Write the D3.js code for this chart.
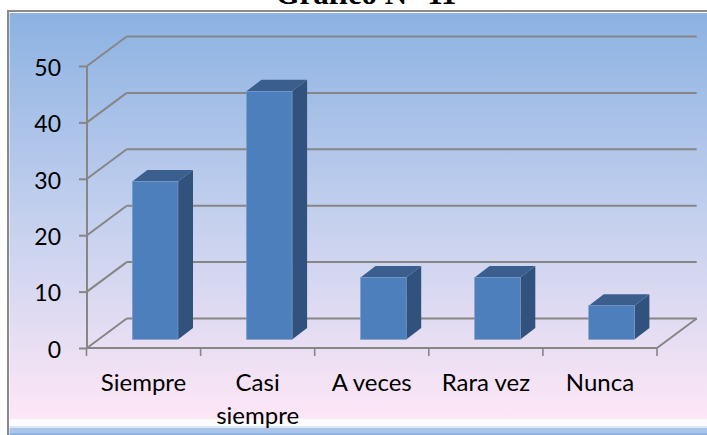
<!DOCTYPE html>
<html><head><meta charset="utf-8">
<script src="https://cdn.jsdelivr.net/npm/d3@7"></script>
<style>html,body{margin:0;padding:0;background:#fff}svg{display:block}</style>
</head><body><svg id="c" width="707" height="435"></svg>
<script>
const categories = ["Siempre", "Casi siempre", "A veces", "Rara vez", "Nunca"];
const values = [28, 44, 11, 11, 6];
const yTicks = [0, 10, 20, 30, 40, 50];
const titleText = "Gráfico N° 11";

const W = 707, H = 435;
const svg = d3.select("#c");
const defs = svg.append("defs");
const g = defs.append("linearGradient").attr("id","bg").attr("x1",0).attr("x2",0).attr("y1",0).attr("y2",1);
[[0,"#8cb2e2"],[0.5,"#c3d0ee"],[1,"#fee7f6"]].forEach(d=>g.append("stop").attr("offset",d[0]).attr("stop-color",d[1]));

// page and plot frame
svg.append("rect").attr("x",9.5).attr("y",13).attr("width",W).attr("height",406).attr("fill","url(#bg)");
svg.append("rect").attr("x",9.5).attr("y",419).attr("width",W).attr("height",7).attr("fill","#fcfcfe");
svg.append("rect").attr("x",9.5).attr("y",426).attr("width",W).attr("height",2).attr("fill","#dde8f5");
svg.append("rect").attr("x",9.5).attr("y",428).attr("width",W).attr("height",5).attr("fill","#a9c5ea");
svg.append("rect").attr("x",9.5).attr("y",433).attr("width",W).attr("height",2).attr("fill","#8fb3e0");
svg.append("rect").attr("x",7).attr("y",10).attr("width",W).attr("height",2).attr("fill","#8a8a8a");
svg.append("rect").attr("x",7).attr("y",10).attr("width",2).attr("height",H).attr("fill","#8a8a8a");

svg.append("text").attr("x",366).attr("y",4).attr("text-anchor","middle")
  .attr("font-family","'Liberation Serif'").attr("font-weight","bold").attr("font-size",31).attr("fill","#000").text(titleText);

// scales
const x = d3.scaleBand().domain(categories).range([86.5,657]);
const y = d3.scaleLinear().domain([0,50]).range([348,66]);
const depthX = 39.7, depthY = 29.5;
const barDX = 15, barDY = 11.5, floorY = 8.5;
const barW = 45.7, barOff = 45.8;

const axis = "#868686";
const line = (x1,y1,x2,y2,w)=>svg.append("line").attr("x1",x1).attr("y1",y1).attr("x2",x2).attr("y2",y2).attr("stroke",axis).attr("stroke-width",w||2);

// gridlines with the receding wall segment
yTicks.forEach(t=>{
  line(87,y(t),87+depthX,y(t)-depthY);
  line(87+depthX,y(t)-depthY,657+depthX,y(t)-depthY);
});
line(657,348,657+depthX,348-depthY);

// axes through d3-axis
const yAxis = svg.append("g").attr("transform","translate(87,0)").call(d3.axisLeft(y).tickValues(yTicks).tickSize(8).tickPadding(18));
const xAxis = svg.append("g").attr("transform","translate(0,348)").call(d3.axisBottom(x).tickValues([]).tickSize(0));
[yAxis,xAxis].forEach(a=>{a.selectAll("path,line").attr("stroke",axis).attr("stroke-width",2);});
yAxis.select("path").attr("d","M0,66V348");
xAxis.select("path").attr("d","M87,0H657");
yAxis.selectAll("text").attr("font-family","Lato").attr("font-size",23).attr("fill","#000").attr("dy","0.4em");

categories.concat([null]).forEach((c,i)=>{
  const tx = c ? x(c) : 657;
  line(tx,348,tx,356,1.6);
});

// bars
const bars = svg.append("g").selectAll("g").data(values).join("g");
bars.each(function(v,i){
  const s = d3.select(this), x0 = x(categories[i])+barOff, top = y(v)-floorY, bot = y(0)-floorY;
  s.append("path").attr("fill","#30527c").attr("d",`M${x0+barW},${top}L${x0+barW+barDX},${top-barDY}L${x0+barW+barDX},${bot-barDY}L${x0+barW},${bot}Z`);
  s.append("path").attr("fill","#3a5f8f").attr("d",`M${x0},${top}L${x0+barDX},${top-barDY}L${x0+barW+barDX},${top-barDY}L${x0+barW},${top}Z`);
  s.append("rect").attr("x",x0).attr("y",top).attr("width",barW).attr("height",bot-top).attr("fill","#4d7fbd").attr("stroke","#7f9fca").attr("stroke-width",0.6);
});

// category labels
const labels = svg.append("g").attr("font-family","Lato").attr("font-size",24).attr("fill","#000").attr("text-anchor","middle");
categories.forEach(c=>{
  const parts = c==="Casi siempre" ? ["Casi","siempre"] : [c];
  parts.forEach((p,k)=>labels.append("text").attr("x",x(c)+x.step()/2).attr("y",391+k*33).text(p));
});
</script></body></html>
